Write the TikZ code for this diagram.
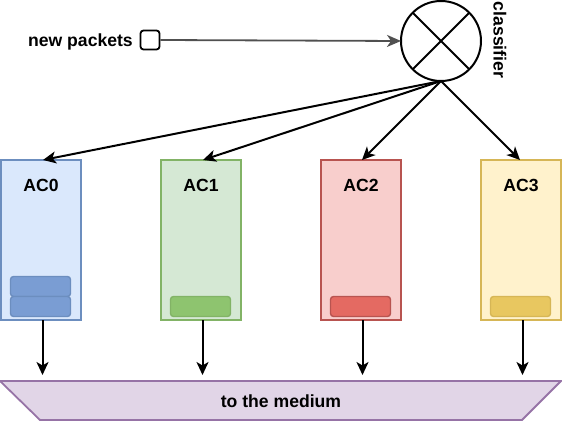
\documentclass[tikz,border=0pt]{standalone}
\usepackage{fontspec}
\setmainfont{Liberation Sans}
\usetikzlibrary{arrows.meta}
\definecolor{bfill}{HTML}{DAE8FC}\definecolor{bline}{HTML}{6C8EBF}\definecolor{bpk}{HTML}{7A9DD3}
\definecolor{gfill}{HTML}{D5E8D4}\definecolor{gline}{HTML}{82B366}\definecolor{gpk}{HTML}{8EC46F}
\definecolor{rfill}{HTML}{F8CECC}\definecolor{rline}{HTML}{B85450}\definecolor{rpk}{HTML}{E46A62}
\definecolor{yfill}{HTML}{FFF2CC}\definecolor{yline}{HTML}{D6B656}\definecolor{ypk}{HTML}{E8C760}
\definecolor{mfill}{HTML}{E1D5E7}\definecolor{mline}{HTML}{9673A6}
\definecolor{grayarrow}{HTML}{505050}
\begin{document}
\begin{tikzpicture}[x=1pt,y=-1pt,
  txt/.style={font=\fontsize{17.6}{20}\selectfont\bfseries, inner sep=0pt},
  acbox/.style={draw, line width=1.8pt, minimum width=80pt, minimum height=160pt, inner sep=0pt, outer sep=0pt},
  pkt/.style={draw, line width=1.4pt, rounded corners=3pt, minimum width=60pt, minimum height=20pt, inner sep=0pt},
  arr/.style={line width=2pt, -{Stealth[length=13pt,width=12pt,inset=3.5pt]}},
]
\useasboundingbox (0,0) rectangle (562,422);
% classifier
\node[draw, circle, line width=2pt, minimum size=80pt, inner sep=0pt, outer sep=0pt] (cls) at (441,41) {};
\draw[line width=2pt] (cls.north west) -- (cls.south east) (cls.north east) -- (cls.south west);
\node[txt, rotate=-90] (clslbl) at (500,40) {classifier};
% new packets
\node[draw, line width=1.8pt, rounded corners=3pt, minimum size=19pt, inner sep=0pt] (sq) at (150,40) {};
\node[txt, anchor=east] (np) at (133,41.5) {new packets};
\draw[line width=1.8pt, grayarrow, -{Stealth[length=14pt,width=12pt,inset=4pt]}] (sq.east) -- (cls.west);
% boxes
\node[acbox, fill=bfill, draw=bline] (ac0) at (41,240) {};
\node[acbox, fill=gfill, draw=gline] (ac1) at (201,240) {};
\node[acbox, fill=rfill, draw=rline] (ac2) at (361,240) {};
\node[acbox, fill=yfill, draw=yline] (ac3) at (521,240) {};
\node[txt] (l0) at (41,185.5) {AC0};
\node[txt] (l1) at (201,185.5) {AC1};
\node[txt] (l2) at (361,185.5) {AC2};
\node[txt] (l3) at (521,185.5) {AC3};
% packets
\node[pkt, fill=bpk, draw=bline] (p0a) at (40.5,286.5) {};
\node[pkt, fill=bpk, draw=bline] (p0b) at (40.5,306.5) {};
\node[pkt, fill=gpk, draw=gline] (p1) at (200.5,306.5) {};
\node[pkt, fill=rpk, draw=rline] (p2) at (360.5,306.5) {};
\node[pkt, fill=ypk, draw=yline] (p3) at (520.5,306.5) {};
% medium
\coordinate (m1) at (0,381); \coordinate (m2) at (561,381);
\coordinate (m3) at (522,420); \coordinate (m4) at (40,420);
\draw[line width=1.8pt, draw=mline, fill=mfill] (m1) -- (m2) -- (m3) -- (m4) -- cycle;
\node[txt] (med) at (281,401.5) {to the medium};
\coordinate (mt) at (281,381);
% arrows from classifier
\draw[arr] (cls.south) -- ([xshift=2pt]ac0.north);
\draw[arr] (cls.south) -- ([xshift=2pt]ac1.north);
\draw[arr] (cls.south) -- ([xshift=1pt]ac2.north);
\draw[arr] (cls.south) -- ([xshift=-1pt]ac3.north);
% arrows to medium
\foreach \b in {ac0,ac1,ac2,ac3}{
  \draw[arr, shorten >=6pt] ([xshift=1.5pt]\b.south) -- ([xshift=1.5pt]\b.south |- mt);
}
\end{tikzpicture}
\end{document}
